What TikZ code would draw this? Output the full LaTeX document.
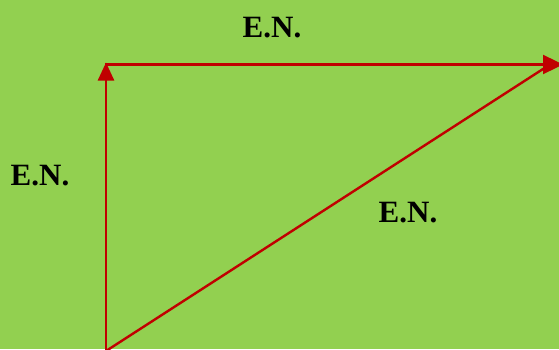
\documentclass[tikz,border=0pt]{standalone}
\usepackage{fontspec}
\setmainfont{Liberation Serif}
\usetikzlibrary{arrows.meta}
\definecolor{bg}{HTML}{92D050}
\definecolor{vred}{HTML}{C00000}
\begin{document}
\begin{tikzpicture}[x=1pt,y=1pt,
  vec/.style={draw=vred,line width=2.4pt,-{Triangle[width=16pt,length=18pt]}},
  bigvec/.style={draw=vred,line width=2.4pt,-{Triangle[width=19pt,length=20pt]}},
  plain/.style={draw=vred,line width=2.4pt},
  lbl/.style={font=\fontsize{31}{33}\selectfont\bfseries,inner sep=0pt}]
\fill[bg] (0,0) rectangle (559,349);
\useasboundingbox (0,0) rectangle (559,349);
\coordinate (A) at (106,-2);
\coordinate (B) at (106,286.5);
\coordinate (Bs) at (105,284.5);
\coordinate (C) at (563,284.5);
\coordinate (Ce) at (550,284.5);
\draw[vec] (A) -- (B);
\draw[bigvec] (Bs) -- (C);
\draw[plain] (A) -- (Ce);
\node[lbl] (t1) at (272,321) {E.N.};
\node[lbl] (t2) at (40,173) {E.N.};
\node[lbl] (t3) at (408,136) {E.N.};
\end{tikzpicture}
\end{document}
